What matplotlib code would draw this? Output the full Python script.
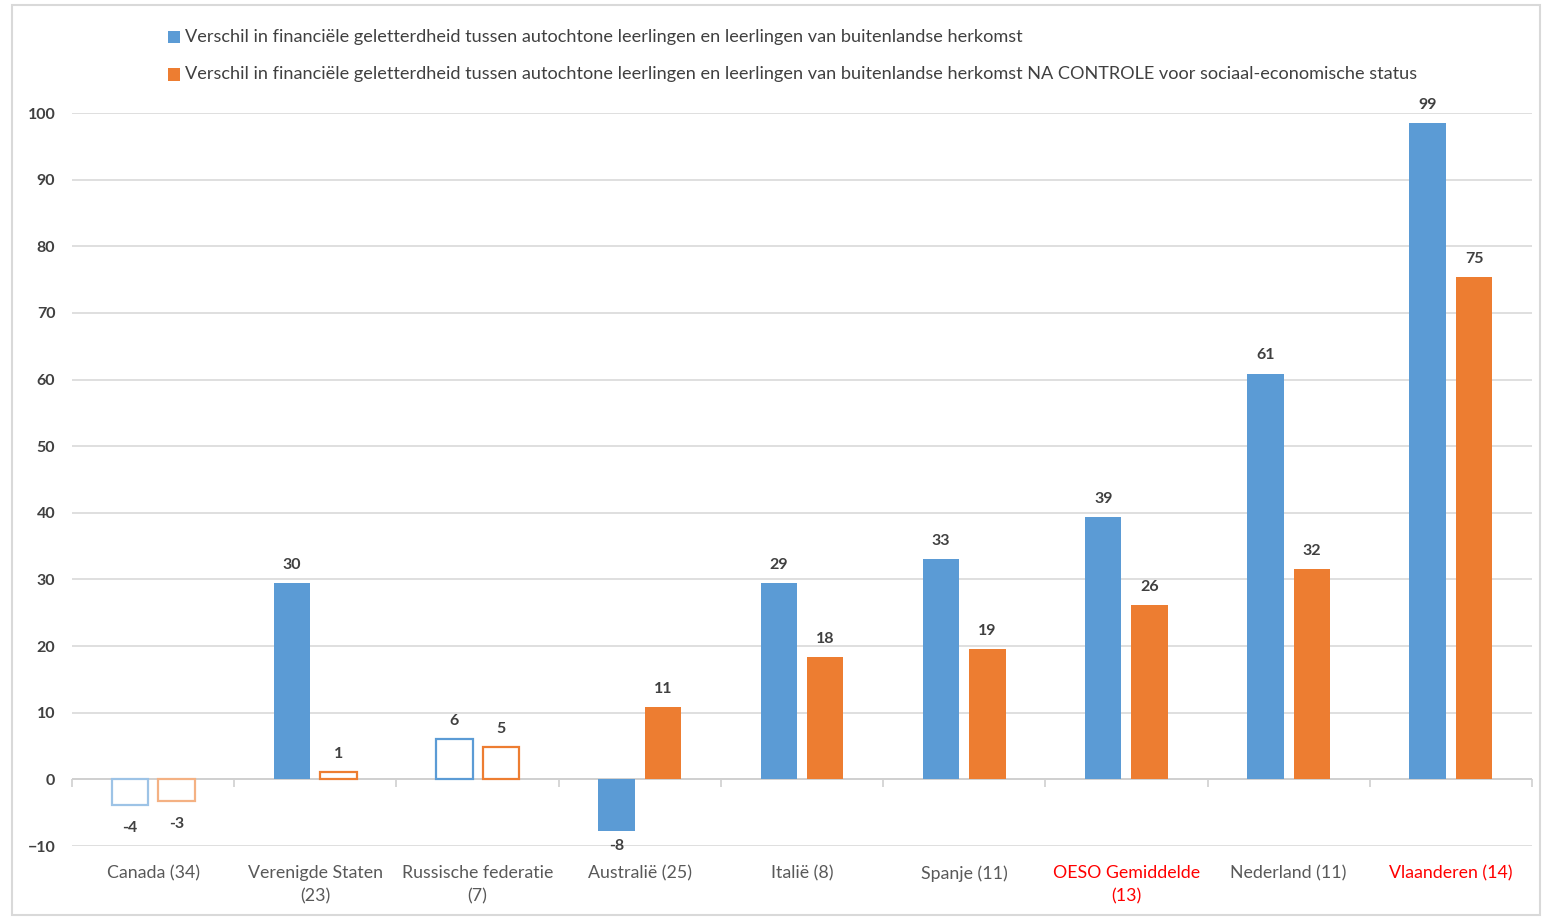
import matplotlib
matplotlib.use("Agg")
import matplotlib.pyplot as plt
import numpy as np
from matplotlib.patches import Rectangle

plt.rcParams['font.family'] = ['Lato', 'DejaVu Sans']

categories = ["Canada (34)", "Verenigde Staten\n(23)", "Russische federatie\n(7)", "Australië (25)",
              "Italië (8)", "Spanje (11)", "OESO Gemiddelde\n(13)", "Nederland (11)", "Vlaanderen (14)"]
red_categories = ["OESO Gemiddelde\n(13)", "Vlaanderen (14)"]

series_names = [
    "Verschil in financiële geletterdheid tussen autochtone leerlingen en leerlingen van buitenlandse herkomst",
    "Verschil in financiële geletterdheid tussen autochtone leerlingen en leerlingen van buitenlandse herkomst NA CONTROLE voor sociaal-economische status",
]
blue_values = [-3.9, 29.5, 6.1, -7.7, 29.4, 33.0, 39.3, 60.9, 98.5]
orange_values = [-3.3, 1.1, 4.8, 10.9, 18.3, 19.5, 26.1, 31.6, 75.4]
blue_labels = ["-4", "30", "6", "-8", "29", "33", "39", "61", "99"]
orange_labels = ["-3", "1", "5", "11", "18", "19", "26", "32", "75"]
# hollow (not significant) bars
blue_hollow = [True, False, True, False, False, False, False, False, False]
orange_hollow = [True, True, True, False, False, False, False, False, False]

BLUE = "#5B9BD5"
ORANGE = "#ED7D31"
TXT = "#404040"

fig = plt.figure(figsize=(15.44, 9.17), dpi=100)
fig.patches.append(Rectangle((12/1544, 2/917), 1528/1544, 910/917, transform=fig.transFigure,
                             fill=False, edgecolor="#d9d9d9", linewidth=1.5))
ax = fig.add_axes([72/1544, 71/917, 1460/1544, 733/917])

n = len(categories)
x = np.arange(n)
w = 0.225
off = 0.143

def draw(vals, labels, hollow, color, dx, edge_light):
    for i, (v, lab, h) in enumerate(zip(vals, labels, hollow)):
        if h:
            ec = edge_light if i == 0 else color
            ax.bar(x[i] + dx, v, w, facecolor="white", edgecolor=ec, linewidth=1.6, zorder=3)
        else:
            ax.bar(x[i] + dx, v, w, color=color, zorder=3)
        if v >= 0:
            ax.annotate(lab, (x[i] + dx, v), xytext=(0, 8), textcoords="offset points",
                        ha="center", va="bottom", fontsize=11.5, color=TXT, fontweight="bold")
        else:
            dy = -6 if v < -6 else -11
            ax.annotate(lab, (x[i] + dx, v), xytext=(0, dy), textcoords="offset points",
                        ha="center", va="top", fontsize=11.5, color=TXT, fontweight="bold")

draw(blue_values, blue_labels, blue_hollow, BLUE, -off, "#9DC3E6")
draw(orange_values, orange_labels, orange_hollow, ORANGE, off, "#F4B183")

ax.set_xlim(-0.5, n - 0.5)
ax.set_ylim(-10, 100)
ax.set_yticks(np.arange(-10, 101, 10))
ax.grid(axis="y", color="#d9d9d9", linewidth=1.2, zorder=0)
ax.axhline(0, color="#d0d0d0", linewidth=1.4, zorder=2)
ax.vlines(np.arange(n + 1) - 0.5, -1.1, 0, color="#d0d0d0", linewidth=1.2, zorder=2, clip_on=False)
for s in ax.spines.values():
    s.set_visible(False)
ax.tick_params(axis="y", length=0, pad=12, labelsize=11.5, labelcolor=TXT)
ax.set_xticks(x)
ax.set_xticklabels(categories, fontsize=12.8, linespacing=1.55)
ax.tick_params(axis="x", length=0, pad=14, labelcolor="#595959")
for t in ax.get_xticklabels():
    if t.get_text() in red_categories:
        t.set_color("#FF0000")
for t in ax.get_yticklabels():
    t.set_fontweight("bold")

# legend
for j, (name, col) in enumerate(zip(series_names, [BLUE, ORANGE])):
    y = 1 - (37 + j * 37.5) / 917
    fig.patches.append(Rectangle((168/1544, y - 6/917), 12/1544, 12/917, transform=fig.transFigure,
                                 facecolor=col, edgecolor="none"))
    fig.text(185/1544, y, name, fontsize=13.05, color="#404040", va="center", ha="left")

fig.savefig("out.png", dpi=100)
